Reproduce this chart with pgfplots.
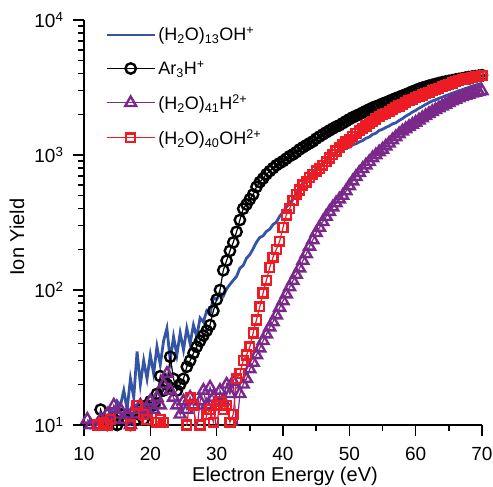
\documentclass[border=0pt]{standalone}
\usepackage{pgfplots}
\pgfplotsset{compat=1.18}
\usepackage{fontspec}
\setmainfont{Liberation Sans}
\definecolor{cblue}{RGB}{52,84,164}
\definecolor{cpurple}{RGB}{122,40,138}
\definecolor{cred}{RGB}{237,28,36}
\begin{document}
\begin{tikzpicture}
\begin{axis}[
  width=398pt, height=405pt, scale only axis,
  xmin=10, xmax=70, ymin=10, ymax=10000, ymode=log,
  axis lines=left, axis line style={-, line width=1.8pt},
  tick align=outside, tick style={line width=1.5pt, black},
  major tick length=11pt, minor tick length=6pt,
  xtick={10,20,30,40,50,60,70}, minor x tick num=1,
  ytick={10,100,1000,10000},
  yticklabels={10\textsuperscript{1},10\textsuperscript{2},10\textsuperscript{3},10\textsuperscript{4}},
  /pgf/number format/assume math mode=true,
  ticklabel style={font=\fontsize{19}{22}\selectfont},
  xticklabel style={yshift=-8pt},
  yticklabel style={xshift=-6pt},
  xlabel={Electron Energy (eV)}, ylabel={Ion Yield},
  label style={font=\fontsize{20}{23}\selectfont},
  xlabel style={at={(rel axis cs:0.505,-0.104)}, anchor=north, inner sep=0pt},
  ylabel style={at={(rel axis cs:-0.1683,0.464)}, anchor=center, inner sep=0pt},
  legend style={draw=none, fill=none, at={(0.045,0.992)}, anchor=north west,
    font=\fontsize{18}{21}\selectfont, row sep=14.5pt},
  legend cell align=left,
  legend image code/.code={\draw[mark repeat=2,mark phase=2,#1] plot coordinates {(0cm,0cm) (0.85cm,0cm) (1.7cm,0cm)};},
]
\coordinate (bl) at (rel axis cs:0,0);
\coordinate (tr) at (rel axis cs:1,1);
% (H2O)13OH+
\addplot[cblue, line width=2.8pt, no marks] coordinates {
(12,10)(12.5,11)(13,12)(13.5,11)(14,13)(14.5,12)(15,15)(15.5,14)(16,18)(16.5,13)
(17,22)(17.5,16)(18,35)(18.5,20)(19,30)(19.5,22)(20,33)(20.5,24)(21,38)(21.5,28)
(22,42)(22.5,52)(23,30)(23.5,45)(24,33)(24.5,48)(25,36)(25.5,52)(26,40)(26.5,55)
(27,45)(27.5,62)(28,58)(28.5,70)(29,66)(29.5,88)(30,85)(30.5,95)(31,90)(31.5,102)
(32,110)(32.5,118)(33,126)(33.5,145)(34,152)(34.5,172)(35,183)(35.5,202)(36,226)(36.5,245)
(37,252)(37.5,272)(38,282)(38.5,306)(39,318)(39.5,352)(40,376)(40.5,412)(41,436)(41.5,472)
(42,515)(42.5,562)(43,595)(43.5,645)(44,685)(44.5,725)(45,775)(45.5,825)(46,850)(46.5,905)
(47,950)(47.5,1005)(48,1030)(48.5,1080)(49,1090)(49.5,1130)(50,1140)(50.5,1190)(51,1210)(51.5,1250)
(52,1280)(52.5,1330)(53,1360)(53.5,1420)(54,1450)(54.5,1520)(55,1550)(55.5,1600)(56,1640)(56.5,1700)
(57,1730)(57.5,1800)(58,1860)(58.5,1940)(59,2000)(59.5,2080)(60,2140)(60.5,2220)(61,2290)(61.5,2370)
(62,2440)(62.5,2510)(63,2560)(63.5,2630)(64,2680)(64.5,2750)(65,2800)(65.5,2870)(66,2920)(66.5,2990)
(67,3040)(67.5,3110)(68,3160)(68.5,3240)(69,3290)(69.5,3350)(70,3400)
};
\addlegendentry{(H\textsubscript{2}O)\textsubscript{13}OH\textsuperscript{+}}
% Ar3H+
\addplot[black, line width=1.2pt, mark=o, mark size=5.2pt, mark options={line width=2.4pt, fill=none}] coordinates {
(12,9)(12.5,13)(13,11)(13.5,10)(14,9)(14.5,11)(15,10)(15.5,12)(16,9.5)(16.5,11)
(17,10)(17.5,12)(18,11)(18.5,13)(19,11)(19.5,14)(20,15)(20.5,14)(21,17)(21.5,23)
(22,18)(22.5,20)(23,32)(23.5,22)(24,18)(24.5,20)(25,22)(25.5,27)(26,30)(26.5,34)
(27,38)(27.5,42)(28,46)(28.5,50)(29,55)(29.5,70)(30,85)(30.5,100)(31,140)(31.5,165)
(32,195)(32.5,225)(33,270)(33.5,330)(34,400)(34.5,430)(35,470)(35.5,510)(36,580)(36.5,630)
(37,670)(37.5,720)(38,760)(38.5,800)(39,840)(39.5,870)(40,900)(40.5,940)(41,980)(41.5,1010)
(42,1050)(42.5,1100)(43,1140)(43.5,1180)(44,1220)(44.5,1260)(45,1320)(45.5,1370)(46,1420)(46.5,1470)
(47,1520)(47.5,1570)(48,1620)(48.5,1660)(49,1720)(49.5,1780)(50,1840)(50.5,1900)(51,1950)(51.5,2000)
(52,2060)(52.5,2120)(53,2180)(53.5,2240)(54,2290)(54.5,2340)(55,2400)(55.5,2450)(56,2510)(56.5,2570)
(57,2630)(57.5,2690)(58,2750)(58.5,2810)(59,2880)(59.5,2950)(60,3020)(60.5,3090)(61,3150)(61.5,3200)
(62,3260)(62.5,3310)(63,3360)(63.5,3410)(64,3460)(64.5,3500)(65,3540)(65.5,3580)(66,3620)(66.5,3660)
(67,3700)(67.5,3740)(68,3780)(68.5,3810)(69,3840)(69.5,3870)(70,3900)
};
\addlegendentry{Ar\textsubscript{3}H\textsuperscript{+}}
% (H2O)41H2+
\addplot[cpurple, line width=1.2pt, mark=triangle, mark size=6.3pt, mark options={line width=2.4pt, fill=none}] coordinates {
(10.5,11)(11,10)(11.5,9)(12,10)(12.5,11)(13,10)(13.5,12)(14,11)(14.5,14)(15,12)
(15.5,13)(16,11)(16.5,12)(17,10)(17.5,13)(18,12)(18.5,14)(19,12)(19.5,13)(20,15)
(20.5,13)(21,16)(21.5,14)(22,20)(22.5,24)(23,18)(23.5,16)(24,14)(24.5,12)(25,15)
(25.5,13)(26,16)(26.5,14)(27,9)(27.5,15)(28,18)(28.5,14)(29,19)(29.5,16)(30,8.5)
(30.5,18)(31,15)(31.5,20)(32,17)(32.5,21)(33,9)(33.5,17)(34,20)(34.5,22)(35,26)
(35.5,29)(36,33)(36.5,37)(37,42)(37.5,47)(38,53)(38.5,58)(39,65)(39.5,74)(40,83)
(40.5,93)(41,105)(41.5,117)(42,130)(42.5,145)(43,165)(43.5,185)(44,210)(44.5,235)(45,265)
(45.5,290)(46,320)(46.5,350)(47,380)(47.5,410)(48,440)(48.5,470)(49,500)(49.5,540)(50,590)
(50.5,640)(51,690)(51.5,740)(52,790)(52.5,840)(53,890)(53.5,950)(54,1000)(54.5,1050)(55,1100)
(55.5,1160)(56,1220)(56.5,1290)(57,1360)(57.5,1430)(58,1500)(58.5,1560)(59,1620)(59.5,1680)(60,1740)
(60.5,1810)(61,1880)(61.5,1950)(62,2020)(62.5,2090)(63,2160)(63.5,2230)(64,2300)(64.5,2370)(65,2440)
(65.5,2510)(66,2580)(66.5,2640)(67,2700)(67.5,2760)(68,2810)(68.5,2860)(69,2900)(69.5,2940)(70,2980)
};
\addlegendentry{(H\textsubscript{2}O)\textsubscript{41}H\textsuperscript{2+}}
% (H2O)40OH2+
\addplot[cred, line width=1.2pt, mark=square, mark size=4.4pt, mark options={line width=2.4pt, fill=none}] coordinates {
(11.5,9)(12,10)(12.5,8)(13,10.5)(13.5,10)(14,11)(14.5,9)(15,8)(15.5,9)(16,8.5)
(16.5,9)(17,10)(17.5,8)(18,14)(18.5,9)(19,12)(19.5,11)(20,8)(20.5,9)(21,10.5)
(21.5,11)(22,10.5)(22.5,9)(23,8)(23.5,9)(24,8)(24.5,9)(25,8)(25.5,10)(26,16)
(26.5,14)(27,8.5)(27.5,10)(28,9)(28.5,12)(29,13)(29.5,10.5)(30,14)(30.5,15)(31,13)
(31.5,14)(32,10.5)(32.5,12)(33,22)(33.5,24)(34,30)(34.5,33)(35,38)(35.5,48)(36,60)
(36.5,75)(37,95)(37.5,118)(38,147)(38.5,175)(39,200)(39.5,230)(40,290)(40.5,360)(41,400)
(41.5,460)(42,510)(42.5,550)(43,600)(43.5,630)(44,680)(44.5,720)(45,760)(45.5,790)(46,840)
(46.5,890)(47,950)(47.5,1010)(48,1070)(48.5,1130)(49,1190)(49.5,1250)(50,1310)(50.5,1380)(51,1450)
(51.5,1510)(52,1570)(52.5,1640)(53,1710)(53.5,1780)(54,1850)(54.5,1920)(55,1990)(55.5,2040)(56,2100)
(56.5,2170)(57,2240)(57.5,2310)(58,2380)(58.5,2450)(59,2520)(59.5,2590)(60,2650)(60.5,2700)(61,2780)
(61.5,2850)(62,2920)(62.5,2990)(63,3060)(63.5,3130)(64,3200)(64.5,3270)(65,3340)(65.5,3420)(66,3490)
(66.5,3550)(67,3610)(67.5,3660)(68,3710)(68.5,3750)(69,3790)(69.5,3830)(70,3870)
};
\addlegendentry{(H\textsubscript{2}O)\textsubscript{40}OH\textsuperscript{2+}}
\end{axis}
\pgfresetboundingbox
\path ([xshift=-84pt,yshift=-61pt]bl) rectangle ([xshift=11pt,yshift=20pt]tr);
\end{tikzpicture}
\end{document}
